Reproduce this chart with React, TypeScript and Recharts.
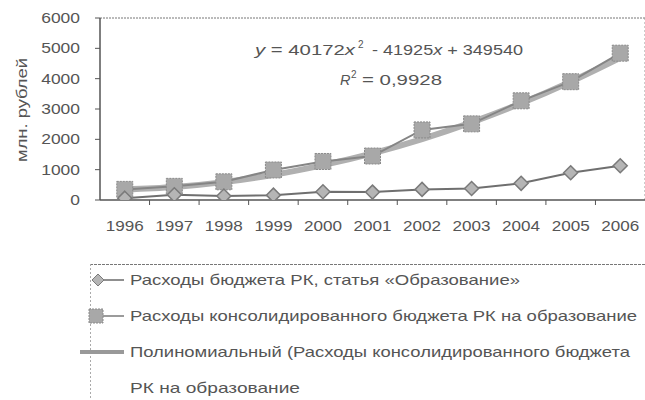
import { LineChart, Line, XAxis, YAxis, ReferenceLine } from "recharts"

const years = [1996, 1997, 1998, 1999, 2000, 2001, 2002, 2003, 2004, 2005, 2006]
const budgetRK = [60, 170, 130, 160, 270, 260, 350, 380, 550, 900, 1130]
const consolidated = [350, 450, 600, 990, 1270, 1450, 2310, 2510, 3270, 3900, 4840]
const trend = [350, 430, 590, 830, 1150, 1540, 2010, 2560, 3190, 3900, 4690]
const yTicks = [0, 1000, 2000, 3000, 4000, 5000, 6000]

const legendLabels = [
  "Расходы бюджета РК, статья «Образование»",
  "Расходы консолидированного бюджета РК на образование",
  "Полиномиальный (Расходы консолидированного бюджета",
  "РК на образование",
]

const data = years.map((year, i) => ({
  year,
  budget: budgetRK[i],
  consolidated: consolidated[i],
  trend: trend[i],
}))

const FONT = "'Liberation Sans', Arial, sans-serif"
const TEXT = "#555"
const CHART_W = 660
const PLOT_LEFT = 100
const PLOT_RIGHT_MARGIN = 15
const HALF_BAND = (CHART_W - PLOT_LEFT - PLOT_RIGHT_MARGIN) / years.length / 2

const Diamond = (props: any) => {
  const { cx, cy } = props
  if (cx == null || cy == null) return null
  const r = 7
  return (
    <polygon
      points={`${cx},${cy - r} ${cx + r},${cy} ${cx},${cy + r} ${cx - r},${cy}`}
      fill="#b5b5b5"
      stroke="#7a7a7a"
      strokeWidth={1.5}
    />
  )
}

const Square = (props: any) => {
  const { cx, cy } = props
  if (cx == null || cy == null) return null
  return <rect x={cx - 8} y={cy - 8} width={16} height={16} fill="#a8a8a8" stroke="#8a8a8a" strokeDasharray="2 1" />
}

const YearTick = (props: any) => {
  const { x, y, payload, index } = props
  return (
    <g>
      {index < years.length - 1 && (
        <line x1={x + HALF_BAND} y1={y - 2} x2={x + HALF_BAND} y2={y + 3} stroke="#555" />
      )}
      <text x={x} y={y + 29} textAnchor="middle" fontFamily={FONT} fontSize={14} fill={TEXT} textLength={38} lengthAdjust="spacingAndGlyphs">
        {payload.value}
      </text>
    </g>
  )
}

const ValueTick = (props: any) => {
  const { x, y, payload } = props
  const w = String(payload.value).length * 9.7
  return (
    <text x={x - 13} y={y + 5} textAnchor="end" fontFamily={FONT} fontSize={14} fill={TEXT} textLength={w} lengthAdjust="spacingAndGlyphs">
      {payload.value}
    </text>
  )
}

function LegendMarker({ kind, y }: { kind: number; y: number }) {
  if (kind === 0) {
    return (
      <g>
        <line x1={92} y1={y} x2={124} y2={y} stroke="#6a6a6a" strokeWidth={1.5} />
        <polygon points={`98,${y - 6} 104,${y} 98,${y + 6} 92,${y}`} fill="#b5b5b5" stroke="#7a7a7a" />
      </g>
    )
  }
  if (kind === 1) {
    return (
      <g>
        <line x1={92} y1={y} x2={124} y2={y} stroke="#7a7a7a" strokeWidth={1.5} />
        <rect x={89} y={y - 7} width={14} height={14} fill="#a8a8a8" stroke="#8a8a8a" strokeDasharray="2 1" />
      </g>
    )
  }
  return <line x1={80} y1={y} x2={124} y2={y} stroke="#999" strokeWidth={4} />
}

export default function App() {
  const legendY = [280, 316, 352, 388]
  const legendW = [390, 507, 500, 170]
  return (
    <div style={{ position: "absolute", left: 0, top: 0, width: 645, height: 400, overflow: "hidden", background: "#fff" }}>
      <LineChart width={CHART_W} height={262} data={data} margin={{ top: 18, right: PLOT_RIGHT_MARGIN, left: 0, bottom: 0 }}>
        <XAxis
          dataKey="year"
          type="number"
          domain={[1995.5, 2006.5]}
          ticks={years}
          tick={<YearTick />}
          tickLine={false}
          tickSize={0}
          axisLine={{ stroke: "#555", strokeWidth: 1.5 }}
          height={62}
          allowDataOverflow
        />
        <YAxis
          domain={[0, 6000]}
          ticks={yTicks}
          tick={<ValueTick />}
          tickSize={5}
          tickLine={{ stroke: "#555" }}
          axisLine={{ stroke: "#555", strokeWidth: 1.5 }}
          width={PLOT_LEFT}
          allowDataOverflow
        />
        <ReferenceLine y={6000} stroke="#777" strokeDasharray="2 1" />
        <ReferenceLine x={2006.5} stroke="#999" strokeDasharray="2 2" />
        <Line dataKey="trend" type="monotone" stroke="#b0b0b0" strokeWidth={6} dot={false} isAnimationActive={false} />
        <Line dataKey="consolidated" stroke="#858585" strokeWidth={2} dot={<Square />} isAnimationActive={false} />
        <Line dataKey="budget" stroke="#6f6f6f" strokeWidth={2} dot={<Diamond />} isAnimationActive={false} />
      </LineChart>

      <svg width={645} height={400} style={{ position: "absolute", left: 0, top: 0, pointerEvents: "none" }} fontFamily={FONT} fill={TEXT}>
        <text x={22} y={110} transform="rotate(-90 22 110)" textAnchor="middle" dominantBaseline="central" fontSize={14} textLength={104} lengthAdjust="spacingAndGlyphs">
          млн. рублей
        </text>

        <text x={255} y={55} fontSize={14.5} textLength={100} lengthAdjust="spacingAndGlyphs">
          <tspan fontStyle="italic">y</tspan> = 40172<tspan fontStyle="italic">x</tspan>
        </text>
        <text x={358} y={48} fontSize={10}>2</text>
        <text x={372} y={55} fontSize={14.5} textLength={151} lengthAdjust="spacingAndGlyphs">
          - 41925<tspan fontStyle="italic">x</tspan> + 349540
        </text>
        <text x={340} y={85} fontSize={14.5} fontStyle="italic">R</text>
        <text x={351} y={78} fontSize={10}>2</text>
        <text x={362} y={85} fontSize={14.5} textLength={80} lengthAdjust="spacingAndGlyphs">
          = 0,9928
        </text>

        <line x1={90} y1={264.5} x2={645} y2={264.5} stroke="#777" strokeDasharray="3 1" />
        <line x1={90.5} y1={264} x2={90.5} y2={400} stroke="#aaa" strokeDasharray="2 2" />
        {legendLabels.map((label, i) => (
          <g key={label}>
            {i < 3 && <LegendMarker kind={i} y={legendY[i]} />}
            <text x={130} y={legendY[i] + 5} fontSize={14.5} textLength={legendW[i]} lengthAdjust="spacingAndGlyphs">
              {label}
            </text>
          </g>
        ))}
      </svg>
    </div>
  )
}
